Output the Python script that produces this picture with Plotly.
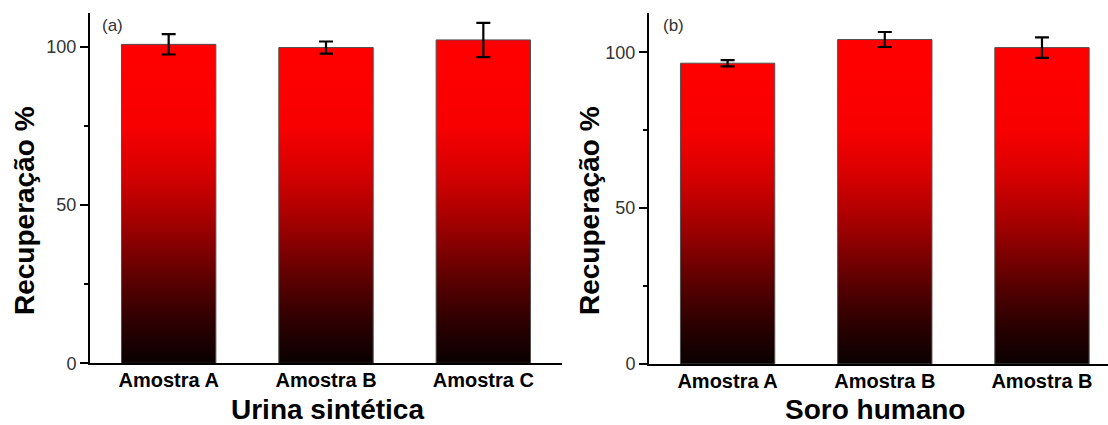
import plotly.graph_objects as go

# Recovery results for the two matrices
amostras_a = ["Amostra A", "Amostra B", "Amostra C"]
recuperacao_a = [100.7, 99.7, 102.1]
erro_a = [3.2, 1.9, 5.4]

amostras_b = ["Amostra A", "Amostra B", "Amostra B"]
recuperacao_b = [96.5, 104.1, 101.5]
erro_b = [1.0, 2.4, 3.3]

titulo_x_a = "Urina sintética"
titulo_x_b = "Soro humano"
titulo_y = "Recuperação %"
y_ticks = [0, 50, 100]
y_minor = [25, 75]

BAR_WIDTH = 0.6
FONT = "Liberation Sans, Arial, sans-serif"

# black-to-red vertical fill used for every bar
gradiente = [
    [0.0, "#0a0000"],
    [0.12, "#2a0000"],
    [0.25, "#560000"],
    [0.45, "#a40000"],
    [0.6, "#d60000"],
    [0.75, "#f80000"],
    [1.0, "#ff0000"],
]


def bar_outline(values):
    """Closed rectangles (one per category) separated by gaps."""
    xs, ys = [], []
    for i, v in enumerate(values):
        x0, x1 = i - BAR_WIDTH / 2, i + BAR_WIDTH / 2
        xs += [x0, x1, x1, x0, x0, None]
        ys += [0, 0, v, v, 0, None]
    return xs, ys


fig = go.Figure()

for values, errors, xa, ya in [
    (recuperacao_a, erro_a, "x", "y"),
    (recuperacao_b, erro_b, "x2", "y2"),
]:
    xs, ys = bar_outline(values)
    fig.add_trace(go.Scatter(
        x=xs, y=ys, xaxis=xa, yaxis=ya,
        mode="lines", fill="toself",
        fillgradient=dict(type="vertical", colorscale=gradiente, start=0, stop=100),
        line=dict(color="#505050", width=1),
        hoverinfo="skip", showlegend=False,
    ))
    fig.add_trace(go.Scatter(
        x=list(range(len(values))), y=values, xaxis=xa, yaxis=ya,
        mode="markers", marker=dict(size=1, color="rgba(0,0,0,0)"),
        error_y=dict(type="data", array=errors, visible=True,
                     color="black", thickness=2.2, width=7),
        showlegend=False,
    ))

W, H = 1108, 425


def px_x(p):
    return p / W


def px_y(p):
    return 1 - p / H


yaxis_common = dict(
    showline=True, linecolor="black", linewidth=2,
    ticks="outside", ticklen=8, tickwidth=2, tickcolor="black",
    tickvals=y_ticks, showgrid=False, zeroline=False, automargin=False,
    tickfont=dict(family=FONT, size=18, color="#333333"),
    minor=dict(tickvals=y_minor, ticks="outside", ticklen=4,
               tickwidth=2, tickcolor="black"),
)
xaxis_common = dict(
    showline=True, linecolor="black", linewidth=2,
    ticks="", tickvals=[0, 1, 2], showgrid=False, zeroline=False,
    automargin=False, ticklabelstandoff=-2,
    tickfont=dict(family=FONT, size=20, color="black", weight="bold"),
)

fig.update_layout(
    width=W, height=H,
    margin=dict(l=0, r=0, t=0, b=0, autoexpand=False),
    paper_bgcolor="white", plot_bgcolor="white",
    xaxis=dict(xaxis_common, domain=[px_x(90), px_x(562)], range=[-0.5, 2.5],
               ticktext=amostras_a, anchor="y"),
    yaxis=dict(yaxis_common, domain=[px_y(363.3), px_y(13)], range=[0, 110.6],
               anchor="x"),
    xaxis2=dict(xaxis_common, domain=[px_x(649), 1.0], range=[-0.5, 2.42],
                ticktext=amostras_b, anchor="y2"),
    yaxis2=dict(yaxis_common, domain=[px_y(364), px_y(13)], range=[0, 112.6],
                anchor="x2"),
)

annotations = [
    dict(text="(a)", x=px_x(100), y=px_y(25), xanchor="left", yanchor="middle",
         font=dict(family=FONT, size=17, color="#333333")),
    dict(text="(b)", x=px_x(661), y=px_y(25), xanchor="left", yanchor="middle",
         font=dict(family=FONT, size=17, color="#333333")),
    dict(text=titulo_y, x=px_x(24), y=px_y(211), textangle=-90,
         xanchor="center", yanchor="middle",
         font=dict(family=FONT, size=28, color="black", weight="bold")),
    dict(text=titulo_y, x=px_x(589), y=px_y(211), textangle=-90,
         xanchor="center", yanchor="middle",
         font=dict(family=FONT, size=28, color="black", weight="bold")),
    dict(text=titulo_x_a, x=px_x(327), y=px_y(409),
         xanchor="center", yanchor="middle",
         font=dict(family=FONT, size=28, color="black", weight="bold")),
    dict(text=titulo_x_b, x=px_x(875), y=px_y(409),
         xanchor="center", yanchor="middle",
         font=dict(family=FONT, size=28, color="black", weight="bold")),
]
for a in annotations:
    a.update(xref="paper", yref="paper", showarrow=False)
fig.update_layout(annotations=annotations)

fig.write_html("out.html")
